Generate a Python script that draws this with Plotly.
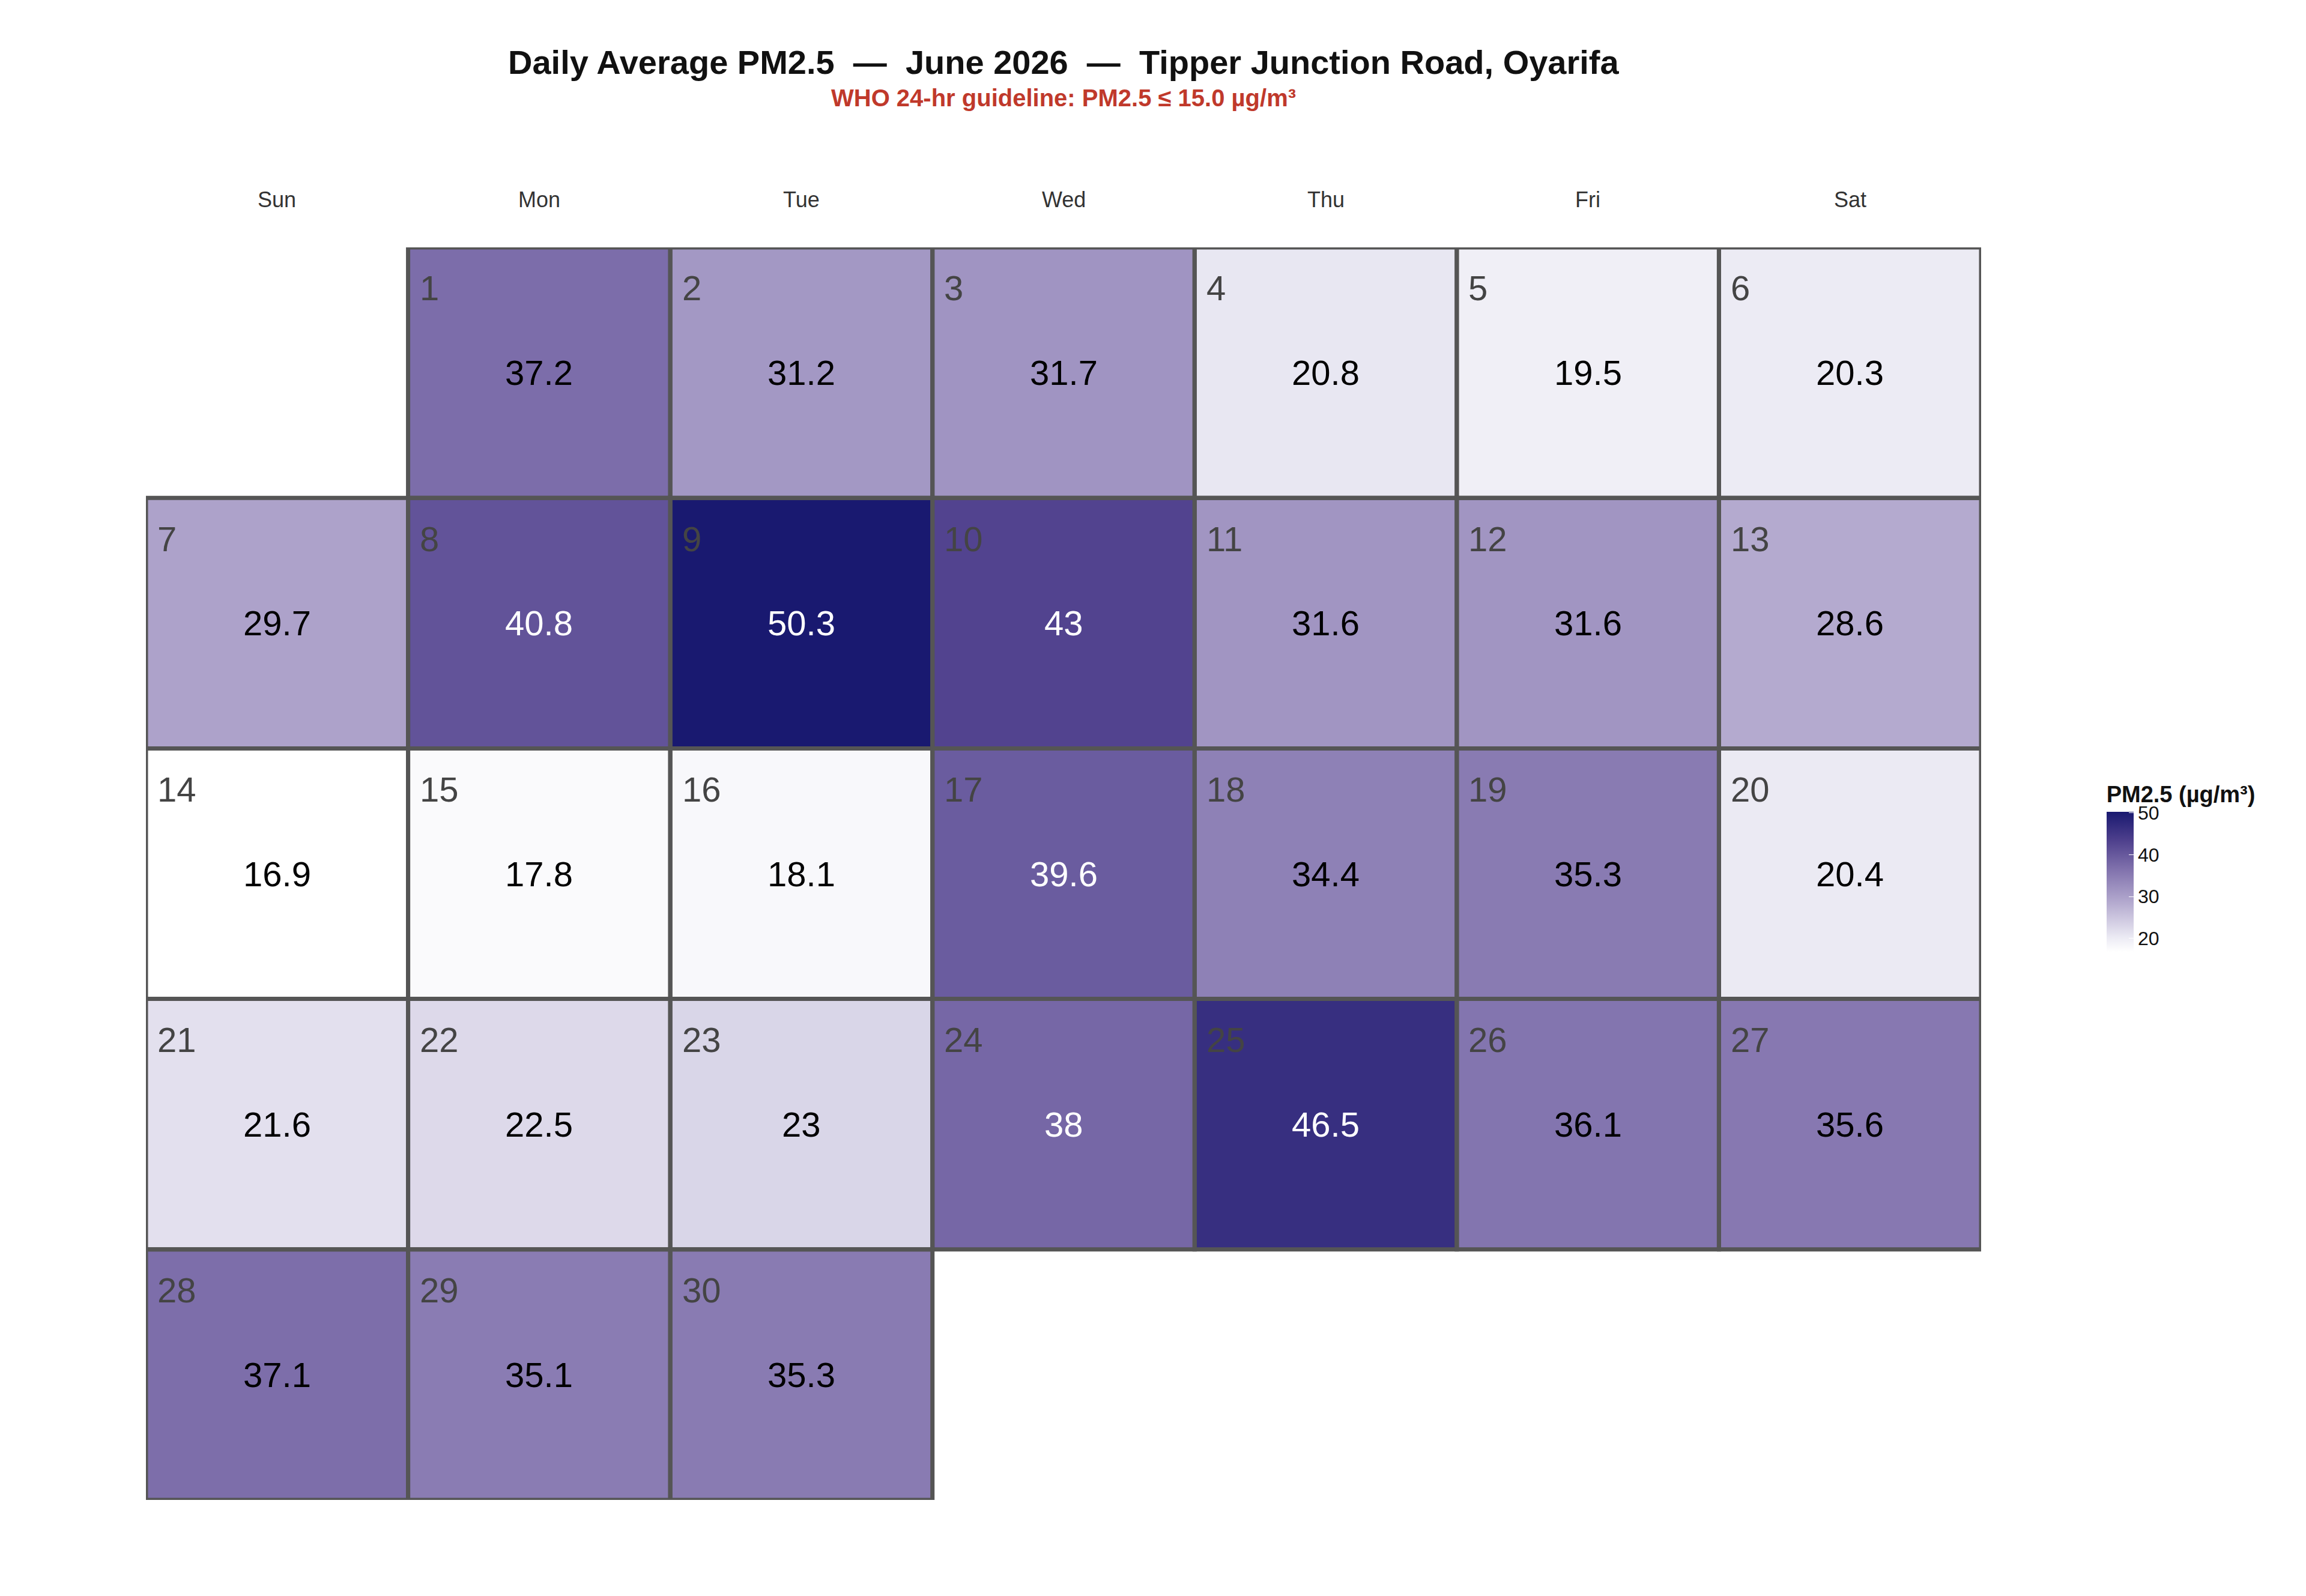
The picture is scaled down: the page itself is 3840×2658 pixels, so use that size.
import datetime as dt
import plotly.graph_objects as go

days = list(range(1, 31))
pm25 = [37.2, 31.2, 31.7, 20.8, 19.5, 20.3,
        29.7, 40.8, 50.3, 43, 31.6, 31.6, 28.6,
        16.9, 17.8, 18.1, 39.6, 34.4, 35.3, 20.4,
        21.6, 22.5, 23, 38, 46.5, 36.1, 35.6,
        37.1, 35.1, 35.3]
weekdays = ["Sun", "Mon", "Tue", "Wed", "Thu", "Fri", "Sat"]

start = dt.date(2026, 6, 1)
offset = (start.weekday() + 1) % 7  # Sunday = 0
cols = [(offset + d - 1) % 7 for d in days]
rows = [(offset + d - 1) // 7 for d in days]
nrows = max(rows) + 1

z = [[None] * 7 for _ in range(nrows)]
for r, c, v in zip(rows, cols, pm25):
    z[r][c] = v

colorscale = [[0.0, "#ffffff"], [0.1, "#ecebf4"], [0.35, "#b4aacf"],
              [0.6, "#7e6fab"], [0.8, "#4d3f8c"], [1.0, "#191970"]]

fig = go.Figure(go.Heatmap(
    z=z, x=list(range(7)), y=list(range(nrows)),
    zmin=16.9, zmax=50.3, colorscale=colorscale, hoverongaps=False,
    colorbar=dict(
        title=dict(text="<b>PM2.5 (µg/m³)</b>", font=dict(size=38, color="#111")),
        tickvals=[20, 30, 40, 50], ticks="inside", ticklen=8, tickcolor="white",
        tickprefix="<b>", ticksuffix="</b>",
        tickfont=dict(size=32, color="#111", family="Liberation Sans"),
        lenmode="pixels", len=300, thickness=45, outlinewidth=0,
        x=1.065, xanchor="left", y=0.505, yanchor="middle"),
))

for d, r, c, v in zip(days, rows, cols, pm25):
    fig.add_shape(type="rect", x0=c - 0.5, x1=c + 0.5, y0=r - 0.5, y1=r + 0.5,
                  line=dict(color="#555555", width=7))
    fig.add_annotation(x=c - 0.46, y=r - 0.42, text=str(d), showarrow=False,
                       xanchor="left", yanchor="top",
                       font=dict(size=58, color="#444444"))
    fig.add_annotation(x=c, y=r, text=f"{v:g}", showarrow=False,
                       font=dict(size=58, color="white" if v >= 38 else "black"))

for i, w in enumerate(weekdays):
    fig.add_annotation(x=i, y=1.049, yref="paper", text=w, showarrow=False,
                       font=dict(size=36, color="#333333"))

fig.add_annotation(x=3, y=1.164, yref="paper", showarrow=False,
                   text="<b>Daily Average PM2.5  —  June 2026  —  Tipper Junction Road, Oyarifa</b>",
                   font=dict(size=56, color="#111"))
fig.add_annotation(x=3, y=1.131, yref="paper", showarrow=False,
                   text="<b>WHO 24-hr guideline: PM2.5 ≤ 15.0 µg/m³</b>",
                   font=dict(size=40, color="#c0392b"))

fig.update_layout(
    width=3840, height=2658,
    font=dict(family="Liberation Sans"),
    paper_bgcolor="white", plot_bgcolor="white",
    margin=dict(l=235, r=549, t=404, b=168),
    xaxis=dict(range=[-0.5, 6.5], visible=False),
    yaxis=dict(range=[nrows - 0.5, -0.5], visible=False),
)

fig.write_html("out.html")
